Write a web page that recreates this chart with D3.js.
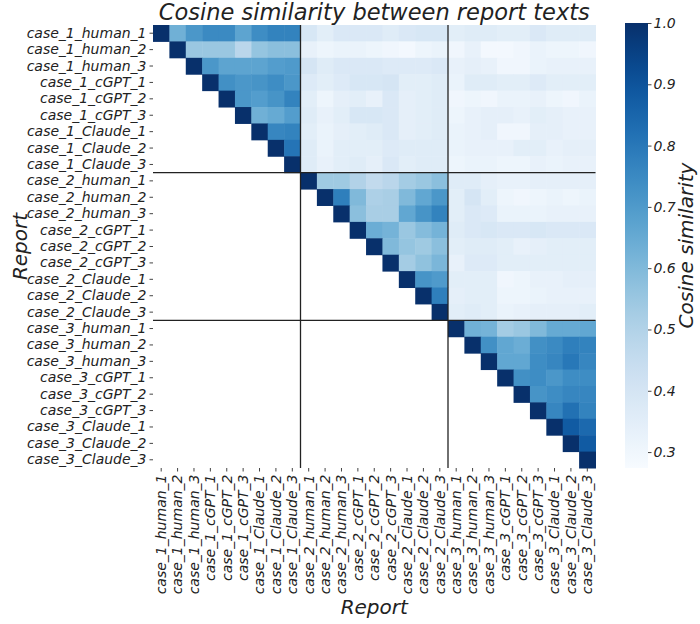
<!DOCTYPE html>
<html>
<head>
<meta charset="utf-8">
<script src="https://cdn.jsdelivr.net/npm/d3@7"></script>
<style>
  body { margin: 0; background: #fff; }
  svg text { font-family: "DejaVu Sans", sans-serif; font-style: italic; fill: #222; }
</style>
</head>
<body>
<div id="chart"></div>
<script>
// report labels (rows and columns)
var reports = [
  "case_1_human_1", "case_1_human_2", "case_1_human_3",
  "case_1_cGPT_1", "case_1_cGPT_2", "case_1_cGPT_3",
  "case_1_Claude_1", "case_1_Claude_2", "case_1_Claude_3",
  "case_2_human_1", "case_2_human_2", "case_2_human_3",
  "case_2_cGPT_1", "case_2_cGPT_2", "case_2_cGPT_3",
  "case_2_Claude_1", "case_2_Claude_2", "case_2_Claude_3",
  "case_3_human_1", "case_3_human_2", "case_3_human_3",
  "case_3_cGPT_1", "case_3_cGPT_2", "case_3_cGPT_3",
  "case_3_Claude_1", "case_3_Claude_2", "case_3_Claude_3"
];
// first report of each case, where the black separator lines go
var caseStarts = ["case_2_human_1", "case_3_human_1"];

// upper triangle of the similarity matrix, row i starts at the diagonal
var upper = [
  [1, 0.63, 0.71, 0.75, 0.75, 0.67, 0.74, 0.77, 0.77, 0.39, 0.35, 0.38, 0.38, 0.38, 0.36, 0.38, 0.39, 0.39, 0.35, 0.36, 0.36, 0.35, 0.35, 0.38, 0.36, 0.36, 0.36],
  [1, 0.55, 0.55, 0.55, 0.48, 0.56, 0.58, 0.58, 0.33, 0.31, 0.32, 0.32, 0.31, 0.30, 0.29, 0.31, 0.32, 0.30, 0.33, 0.29, 0.29, 0.30, 0.32, 0.31, 0.31, 0.30],
  [1, 0.71, 0.67, 0.67, 0.67, 0.69, 0.70, 0.40, 0.36, 0.38, 0.38, 0.38, 0.37, 0.37, 0.37, 0.38, 0.33, 0.34, 0.33, 0.30, 0.30, 0.32, 0.33, 0.33, 0.33],
  [1, 0.73, 0.71, 0.72, 0.74, 0.71, 0.37, 0.35, 0.37, 0.39, 0.39, 0.40, 0.35, 0.35, 0.36, 0.32, 0.36, 0.36, 0.35, 0.35, 0.37, 0.35, 0.35, 0.35],
  [1, 0.71, 0.69, 0.72, 0.77, 0.35, 0.31, 0.34, 0.35, 0.33, 0.38, 0.34, 0.35, 0.36, 0.30, 0.31, 0.30, 0.32, 0.32, 0.33, 0.31, 0.30, 0.32],
  [1, 0.63, 0.65, 0.69, 0.36, 0.33, 0.35, 0.39, 0.39, 0.38, 0.34, 0.35, 0.36, 0.31, 0.33, 0.34, 0.34, 0.33, 0.35, 0.34, 0.33, 0.33],
  [1, 0.76, 0.77, 0.35, 0.32, 0.34, 0.35, 0.36, 0.38, 0.34, 0.35, 0.36, 0.32, 0.33, 0.34, 0.30, 0.30, 0.34, 0.34, 0.33, 0.33],
  [1, 0.81, 0.36, 0.32, 0.35, 0.35, 0.35, 0.37, 0.36, 0.36, 0.36, 0.32, 0.33, 0.33, 0.33, 0.35, 0.35, 0.33, 0.34, 0.34],
  [1, 0.36, 0.33, 0.35, 0.36, 0.34, 0.38, 0.35, 0.36, 0.36, 0.31, 0.32, 0.32, 0.31, 0.31, 0.33, 0.32, 0.33, 0.33],
  [1, 0.54, 0.54, 0.50, 0.46, 0.48, 0.53, 0.55, 0.58, 0.36, 0.36, 0.34, 0.33, 0.33, 0.34, 0.34, 0.34, 0.34],
  [1, 0.78, 0.60, 0.51, 0.52, 0.60, 0.66, 0.71, 0.35, 0.40, 0.35, 0.31, 0.30, 0.31, 0.32, 0.31, 0.32],
  [1, 0.58, 0.52, 0.52, 0.66, 0.72, 0.77, 0.35, 0.38, 0.37, 0.32, 0.32, 0.32, 0.33, 0.33, 0.33],
  [1, 0.64, 0.62, 0.55, 0.59, 0.62, 0.36, 0.38, 0.39, 0.38, 0.38, 0.39, 0.38, 0.38, 0.38],
  [1, 0.60, 0.56, 0.54, 0.58, 0.35, 0.36, 0.36, 0.35, 0.33, 0.34, 0.35, 0.35, 0.35],
  [1, 0.53, 0.57, 0.61, 0.33, 0.37, 0.37, 0.35, 0.35, 0.35, 0.35, 0.35, 0.35],
  [1, 0.72, 0.70, 0.35, 0.35, 0.35, 0.30, 0.31, 0.33, 0.33, 0.34, 0.34],
  [1, 0.78, 0.34, 0.35, 0.35, 0.31, 0.31, 0.32, 0.33, 0.33, 0.33],
  [1, 0.35, 0.36, 0.35, 0.32, 0.33, 0.34, 0.34, 0.34, 0.35],
  [1, 0.63, 0.62, 0.53, 0.55, 0.60, 0.65, 0.65, 0.66],
  [1, 0.73, 0.66, 0.64, 0.73, 0.75, 0.78, 0.77],
  [1, 0.66, 0.66, 0.74, 0.76, 0.80, 0.76],
  [1, 0.73, 0.74, 0.71, 0.74, 0.74],
  [1, 0.72, 0.74, 0.76, 0.76],
  [1, 0.76, 0.82, 0.77],
  [1, 0.88, 0.84],
  [1, 0.88],
  [1]
];

var colorTicks = [0.3, 0.4, 0.5, 0.6, 0.7, 0.8, 0.9, 1.0];
var colorDomain = [0.274, 1.0];

var width = 700, height = 624;
var plot = {left: 153, right: 595.5, top: 25, bottom: 468};
var bar = {left: 625, width: 23, top: 23, bottom: 468};

var svg = d3.select("#chart").append("svg")
    .attr("width", width)
    .attr("height", height);

var x = d3.scaleBand().domain(reports).range([plot.left, plot.right]);
var y = d3.scaleBand().domain(reports).range([plot.top, plot.bottom]);
var color = d3.scaleSequential(d3.interpolateBlues).domain(colorDomain);

// flatten the triangle into cells
var cells = [];
upper.forEach(function (row, i) {
  row.forEach(function (v, k) {
    cells.push({row: reports[i], col: reports[i + k], value: v});
  });
});

svg.append("g")
    .selectAll("rect")
    .data(cells)
    .enter().append("rect")
    .attr("x", function (d) { return x(d.col); })
    .attr("y", function (d) { return y(d.row); })
    .attr("width", x.bandwidth() + 0.5)
    .attr("height", y.bandwidth() + 0.5)
    .attr("fill", function (d) { return color(d.value); });

// separators between cases
var sep = svg.append("g").attr("stroke", "#222").attr("stroke-width", 1.3);
caseStarts.forEach(function (c) {
  sep.append("line")
      .attr("x1", plot.left).attr("x2", plot.right)
      .attr("y1", y(c)).attr("y2", y(c));
  sep.append("line")
      .attr("x1", x(c)).attr("x2", x(c))
      .attr("y1", plot.top).attr("y2", plot.bottom);
});

// axes
var yAxis = svg.append("g")
    .attr("transform", "translate(" + plot.left + ",0)")
    .call(d3.axisLeft(y).tickSize(3.5).tickPadding(3));
yAxis.select(".domain").remove();
yAxis.selectAll("text").style("font-size", "14px").style("font-family", null);
yAxis.selectAll("line").attr("stroke", "#444");

var xAxis = svg.append("g")
    .attr("transform", "translate(0," + plot.bottom + ")")
    .call(d3.axisBottom(x).tickSize(3.5).tickPadding(3));
xAxis.select(".domain").remove();
xAxis.selectAll("line").attr("stroke", "#444");
xAxis.selectAll("text")
    .style("font-size", "14px")
    .style("font-family", null)
    .attr("text-anchor", "end")
    .attr("dy", "0.35em")
    .attr("transform", "translate(0,6.5) rotate(-90)")
    .attr("x", 0)
    .attr("y", 0);

// title and axis labels
svg.append("text")
    .attr("x", (plot.left + plot.right) / 2)
    .attr("y", 20)
    .attr("text-anchor", "middle")
    .style("font-size", "22.5px")
    .text("Cosine similarity between report texts");

svg.append("text")
    .attr("x", (plot.left + plot.right) / 2)
    .attr("y", 614)
    .attr("text-anchor", "middle")
    .style("font-size", "20px")
    .text("Report");

svg.append("text")
    .attr("transform", "translate(27," + ((plot.top + plot.bottom) / 2) + ") rotate(-90)")
    .attr("text-anchor", "middle")
    .style("font-size", "20px")
    .text("Report");

// colorbar
var defs = svg.append("defs");
var grad = defs.append("linearGradient")
    .attr("id", "cbar")
    .attr("x1", 0).attr("y1", 1).attr("x2", 0).attr("y2", 0);
d3.range(0, 1.0001, 0.05).forEach(function (t) {
  grad.append("stop")
      .attr("offset", t)
      .attr("stop-color", d3.interpolateBlues(t));
});
svg.append("rect")
    .attr("x", bar.left)
    .attr("y", bar.top)
    .attr("width", bar.width)
    .attr("height", bar.bottom - bar.top)
    .attr("fill", "url(#cbar)");

var cScale = d3.scaleLinear().domain(colorDomain).range([bar.bottom, bar.top]);
var cAxis = svg.append("g")
    .attr("transform", "translate(" + (bar.left + bar.width) + ",0)")
    .call(d3.axisRight(cScale).tickValues(colorTicks).tickFormat(d3.format(".1f")).tickSize(3.5).tickPadding(2));
cAxis.select(".domain").remove();
cAxis.selectAll("line").attr("stroke", "#444");
cAxis.selectAll("text").style("font-size", "14px").style("font-family", null);

svg.append("text")
    .attr("transform", "translate(693," + ((bar.top + bar.bottom) / 2) + ") rotate(-90)")
    .attr("text-anchor", "middle")
    .style("font-size", "20px")
    .text("Cosine similarity");
</script>
</body>
</html>
